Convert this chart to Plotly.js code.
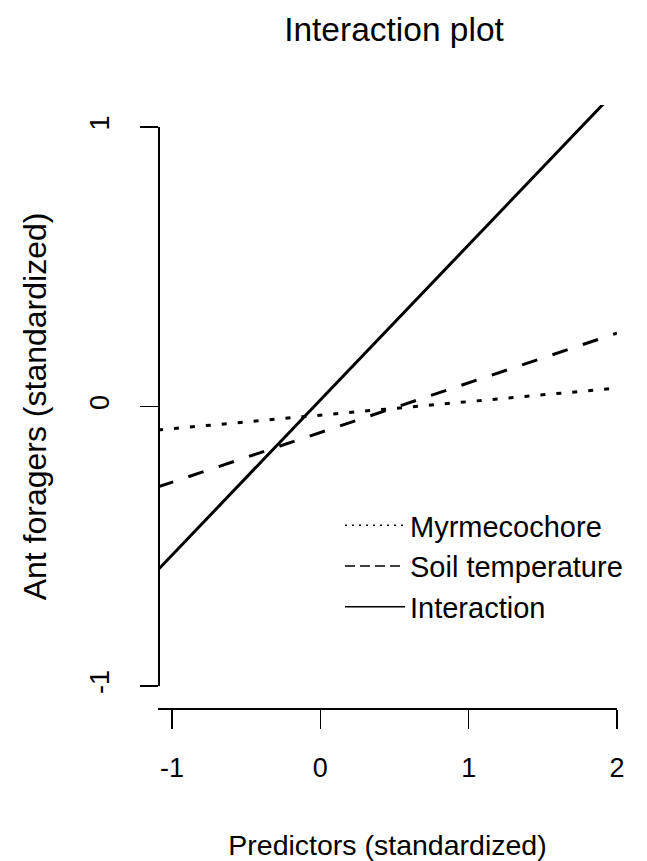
<!DOCTYPE html>
<html>
<head>
<meta charset="utf-8">
<script src="https://cdn.plot.ly/plotly-3.0.1.min.js"></script>
<style>html,body{margin:0;padding:0;background:#fff;}#chart{width:647px;height:861px;}</style>
</head>
<body>
<div id="chart"></div>
<script>
// ---- data ----
const predictorX = [-1.094, 2.0];          // standardized predictor range
const myrmecochoreY = [-0.084, 0.066];
const soilTemperatureY = [-0.288, 0.263];
const interactionY = [-0.585, 1.135];
const seriesNames = ['Myrmecochore', 'Soil temperature', 'Interaction'];
const xTickVals = [-1, 0, 1, 2];
const xTickText = ['-1', '0', '1', '2'];
const yTickVals = [-1, 0, 1];
const yTickText = ['-1', '0', '1'];

const W = 647, H = 861;
const FONT = 'Liberation Sans, Arial, sans-serif';
const px = v => v / W;
const py = v => 1 - v / H;

const traces = [
  {x: predictorX, y: myrmecochoreY, mode: 'lines', showlegend: false,
   line: {color: '#000', width: 3, dash: '5px,11px'}},
  {x: predictorX, y: soilTemperatureY, mode: 'lines', showlegend: false,
   line: {color: '#000', width: 3, dash: '16px,16px'}},
  {x: predictorX, y: interactionY, mode: 'lines', showlegend: false,
   line: {color: '#000', width: 3}},
  // legend entries (thin lines as in the reference legend)
  {x: [null], y: [null], mode: 'lines', name: seriesNames[0],
   line: {color: '#000', width: 1.5, dash: '2px,5px'}},
  {x: [null], y: [null], mode: 'lines', name: seriesNames[1],
   line: {color: '#000', width: 1.5, dash: '10px,5px'}},
  {x: [null], y: [null], mode: 'lines', name: seriesNames[2],
   line: {color: '#000', width: 1.5}},
  // empty trace so the R-style y axis (ticks -1..1 only) is drawn
  {x: [null], y: [null], xaxis: 'x', yaxis: 'y2', mode: 'lines', showlegend: false,
   hoverinfo: 'skip', line: {color: 'rgba(0,0,0,0)'}}
];

const layout = {
  width: W, height: H,
  margin: {l: 0, r: 0, t: 0, b: 0},
  paper_bgcolor: '#fff', plot_bgcolor: 'rgba(0,0,0,0)',
  font: {family: FONT, color: '#000'},
  showlegend: true,
  title: {
    text: 'Interaction plot',
    font: {family: FONT, size: 33.5, color: '#000'},
    x: px(394), xanchor: 'center', y: py(29), yanchor: 'middle', xref: 'paper', yref: 'container'
  },
  xaxis: {
    domain: [px(158), px(617)], range: [-1.094, 2.0], anchor: 'y',
    showline: true, linecolor: '#000', linewidth: 1.5,
    ticks: 'outside', ticklen: 19, tickwidth: 1.5, tickcolor: '#000',
    tickvals: xTickVals, ticktext: xTickText, tickfont: {size: 27, family: FONT, color: '#000'},
    ticklabelstandoff: 16,
    showgrid: false, zeroline: false, fixedrange: true,
    title: {text: 'Predictors (standardized)', font: {size: 28.5, family: FONT, color: '#000'}, standoff: 59}
  },
  yaxis: {
    domain: [py(708), py(105)], range: [-1.08, 1.08], anchor: 'x',
    showline: false, showticklabels: false, ticks: '',
    showgrid: false, zeroline: false, fixedrange: true,
    title: {text: 'Ant foragers (standardized)', font: {size: 32, family: FONT, color: '#000'}, standoff: 100}
  },
  yaxis2: {
    domain: [py(686), py(127)], range: [-1, 1], anchor: 'free', position: px(158),
    showline: true, linecolor: '#000', linewidth: 1.5,
    ticks: 'outside', ticklen: 18, tickwidth: 1.5, tickcolor: '#000',
    tickvals: yTickVals, ticktext: yTickText, tickangle: -90,
    tickfont: {size: 27, family: FONT, color: '#000'}, ticklabelstandoff: 20,
    showgrid: false, zeroline: false, fixedrange: true
  },
  legend: {
    x: px(340), xanchor: 'left', y: py(500), yanchor: 'top',
    bgcolor: 'rgba(0,0,0,0)', borderwidth: 0,
    font: {size: 29, family: FONT, color: '#000'},
    itemwidth: 60, tracegroupgap: 0
  }
};

Plotly.newPlot('chart', traces, layout, {staticPlot: true, displayModeBar: false});
</script>
</body>
</html>
